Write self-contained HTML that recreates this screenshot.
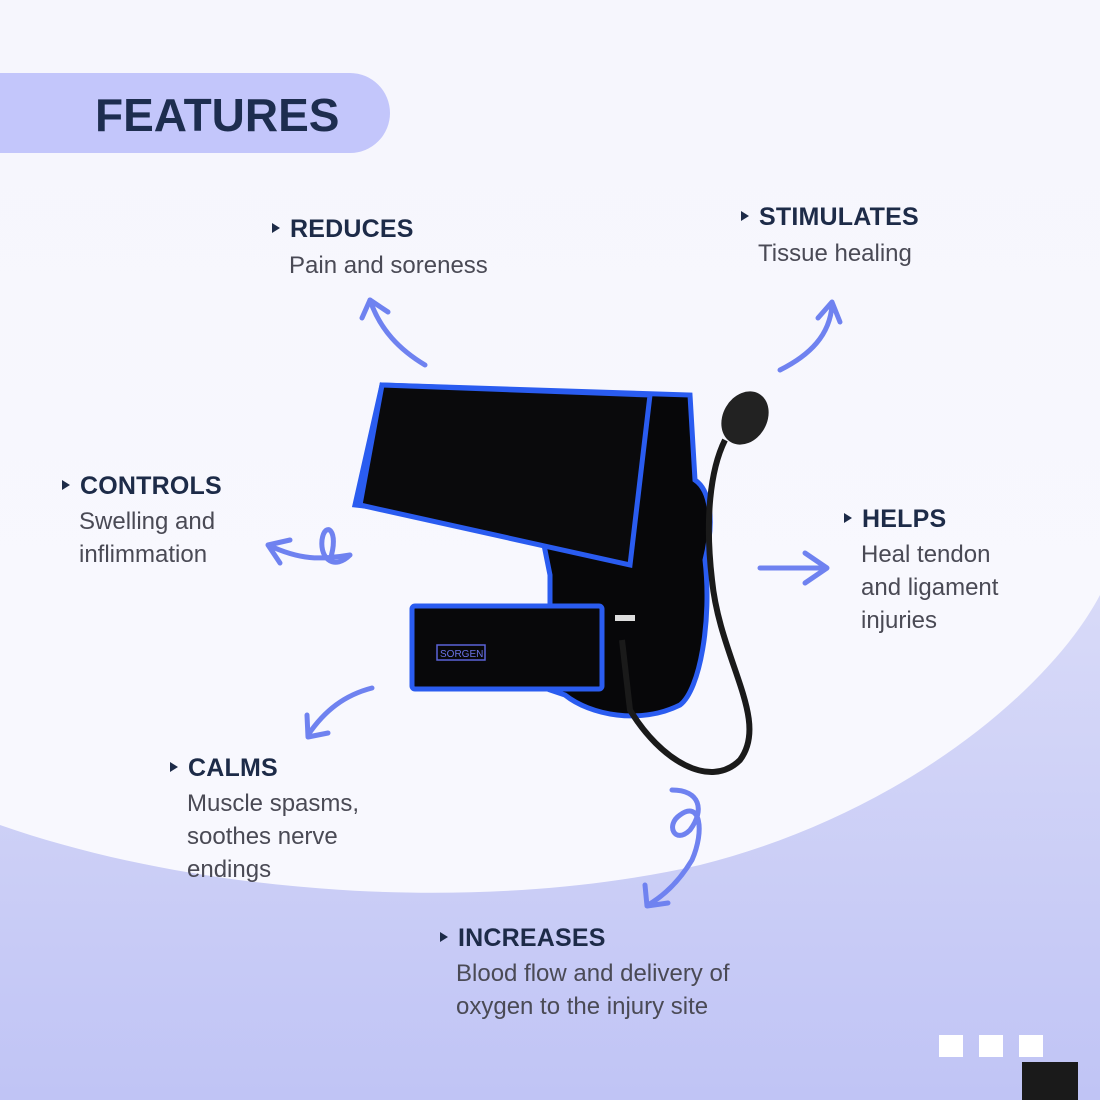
<!DOCTYPE html>
<html><head><meta charset="utf-8"><style>
html,body{margin:0;padding:0;width:1100px;height:1100px;overflow:hidden;font-family:"Liberation Sans",sans-serif}
.t{position:absolute;color:#1d2b48;font-weight:bold;font-size:25px;letter-spacing:0.2px}
.t:before{content:"";display:inline-block;border-left:8px solid #1d2b48;border-top:5px solid transparent;border-bottom:5px solid transparent;margin-right:10px;vertical-align:middle;position:relative;top:-2px}
.d{position:absolute;color:#4a4a55;font-size:24px;line-height:33px}
</style></head><body>
<svg width="1100" height="1100" style="position:absolute;left:0;top:0">
<defs>
<linearGradient id="bg" x1="0" y1="0" x2="0" y2="1"><stop offset="0" stop-color="#f6f6fd"/><stop offset="1" stop-color="#f9f9fe"/></linearGradient>
<linearGradient id="pg" x1="0" y1="0" x2="0" y2="1"><stop offset="0" stop-color="#d8daf8"/><stop offset="1" stop-color="#c0c4f5"/></linearGradient>
</defs>
<rect width="1100" height="1100" fill="url(#bg)"/>
<path d="M0,825 C200,895 480,915 700,865 C900,815 1050,690 1100,595 L1100,1100 L0,1100Z" fill="url(#pg)"/>
<path d="M0,73 H350 A40,40 0 0 1 350,153 H0Z" fill="#c3c6fb"/>
<text x="95" y="131" font-family="Liberation Sans" font-weight="bold" font-size="46" fill="#1d2d4f">FEATURES</text>
<g fill="none" stroke="#6f82f0" stroke-width="5" stroke-linecap="round" stroke-linejoin="round">
<path d="M425,365 C400,350 380,330 370,300"/><path d="M362,318 L370,300 L388,312"/>
<path d="M780,370 C810,355 830,335 832,305"/><path d="M818,318 L832,302 L840,322"/>
<path d="M350,555 C320,560 300,560 268,545 M268,545 L290,540 M268,545 L280,563 M350,555 C335,570 320,560 322,540 C325,520 340,530 330,560"/>
<path d="M760,568 H825"/><path d="M805,553 L827,568 L805,583"/>
<path d="M372,688 C345,695 325,710 308,735"/><path d="M307,715 L308,737 L328,733"/>
<path d="M672,790 C700,790 705,810 690,830 C675,845 665,825 680,815 C700,800 705,830 692,860 C680,880 665,895 648,905"/><path d="M645,885 L647,906 L668,903"/>
</g>
<path d="M382,385 L690,395 L695,480 C710,490 715,520 705,560 C712,620 700,690 680,705 C640,725 590,715 565,695 L550,690 L550,575 L540,525 L355,505 Z" fill="#070709" stroke="#2a5cf0" stroke-width="5"/>
<path d="M382,385 L650,395 L630,565 L360,505 Z" fill="#0a0a0c" stroke="#2a5cf0" stroke-width="5"/>
<rect x="412" y="606" width="190" height="83" fill="#08080a" stroke="#2a5cf0" stroke-width="5" rx="3"/>
<rect x="437" y="645" width="48" height="15" fill="none" stroke="#5a63d8" stroke-width="1.5"/>
<text x="440" y="657" font-size="10" fill="#6a73e8" font-family="Liberation Sans">SORGEN</text>
<ellipse cx="745" cy="418" rx="22" ry="28" fill="#222" transform="rotate(30 745 418)"/>
<path d="M725,440 C710,470 705,520 712,580 C720,660 770,720 740,760 C710,790 660,760 630,710 L622,640" fill="none" stroke="#1a1a1a" stroke-width="6"/>
<rect x="615" y="615" width="20" height="6" fill="#ddd"/>
</svg>
<div class="t" style="left:272px;top:215px">REDUCES</div>
<div class="d" style="left:289px;top:249px">Pain and soreness</div>
<div class="t" style="left:741px;top:203px">STIMULATES</div>
<div class="d" style="left:758px;top:237px">Tissue healing</div>
<div class="t" style="left:62px;top:472px">CONTROLS</div>
<div class="d" style="left:79px;top:505px">Swelling and<br>inflimmation</div>
<div class="t" style="left:844px;top:505px">HELPS</div>
<div class="d" style="left:861px;top:538px">Heal tendon<br>and ligament<br>injuries</div>
<div class="t" style="left:170px;top:754px">CALMS</div>
<div class="d" style="left:187px;top:787px">Muscle spasms,<br>soothes nerve<br>endings</div>
<div class="t" style="left:440px;top:924px">INCREASES</div>
<div class="d" style="left:456px;top:957px">Blood flow and delivery of<br>oxygen to the injury site</div>
<div style="position:absolute;left:939px;top:1035px;width:24px;height:22px;background:#fff"></div>
<div style="position:absolute;left:979px;top:1035px;width:24px;height:22px;background:#fff"></div>
<div style="position:absolute;left:1019px;top:1035px;width:24px;height:22px;background:#fff"></div>
<div style="position:absolute;left:1022px;top:1062px;width:56px;height:38px;background:#1a1a1a"></div>
</body></html>
